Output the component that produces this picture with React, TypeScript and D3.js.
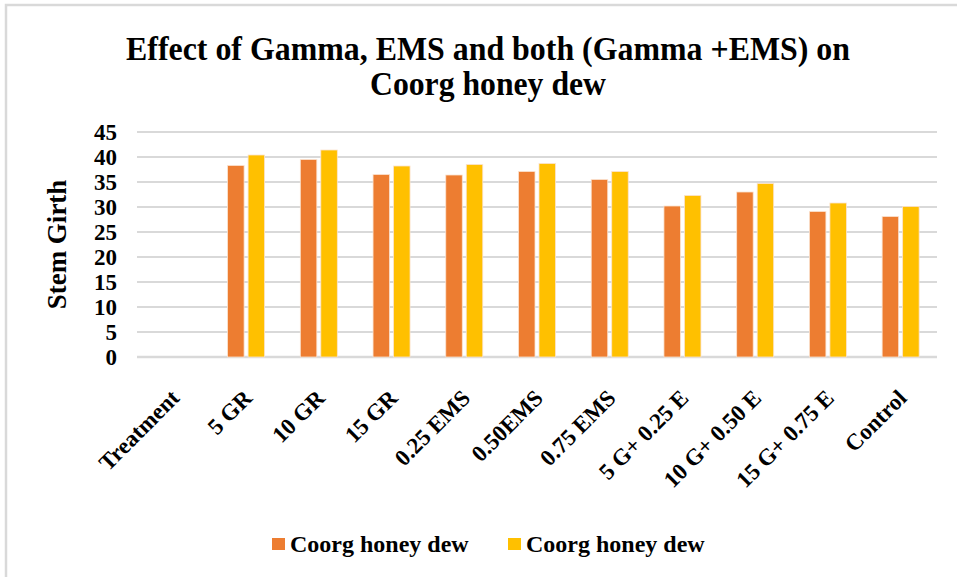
import React from 'react';
import * as d3 from 'd3';

const width = 957;
const height = 577;

const categories = ['Treatment', '5 GR', '10 GR', '15 GR', '0.25 EMS', '0.50EMS', '0.75 EMS', '5 G+ 0.25 E', '10 G+ 0.50 E', '15 G+ 0.75 E', 'Control'];
const seriesA = [0, 38.3, 39.5, 36.5, 36.4, 37.1, 35.5, 30.2, 33.0, 29.1, 28.1];
const seriesB = [0, 40.4, 41.4, 38.2, 38.5, 38.7, 37.1, 32.3, 34.7, 30.8, 30.1];
const seriesNames = ['Coorg honey dew', 'Coorg honey dew'];
const colors = ['#ED7D31', '#FFC000'];
const yTicks = [0, 5, 10, 15, 20, 25, 30, 35, 40, 45];

const serif = { fontFamily: '"Liberation Serif", "DejaVu Serif", serif', fontWeight: 700 as const };

export default function App() {
  const x0 = d3.scaleBand().domain(categories).range([137, 937]);
  const y = d3.scaleLinear().domain([0, 45]).range([357, 132]);
  const barW = 16.5;
  const gap = 4;
  const series = [seriesA, seriesB];

  return (
    <svg width={width} height={height} style={{ position: 'absolute', left: 0, top: 0, background: '#fff' }}>
      <rect x={6} y={5} width={width} height={height} fill="#fff" stroke="#d9d9d9" strokeWidth={2.5} />
      <text x={488} y={60} textAnchor="middle" fontSize={33} style={serif} textLength={724} lengthAdjust="spacingAndGlyphs">Effect of Gamma, EMS and both (Gamma +EMS) on</text>
      <text x={488} y={95} textAnchor="middle" fontSize={33} style={serif} textLength={236} lengthAdjust="spacingAndGlyphs">Coorg honey dew</text>

      {yTicks.map((t) => (
        <g key={t}>
          <line x1={137} x2={937} y1={y(t)} y2={y(t)} stroke="#d9d9d9" strokeWidth={t === 0 ? 2.5 : 2} />
          <text x={117} y={y(t)} dy="0.36em" textAnchor="end" fontSize={23} style={serif}>{t}</text>
        </g>
      ))}

      <text transform={`translate(66,${(y(0) + y(45)) / 2}) rotate(-90)`} textAnchor="middle" fontSize={27} style={serif}>Stem Girth</text>

      {categories.map((c, i) => {
        const cx = (x0(c) as number) + x0.bandwidth() / 2;
        return (
          <g key={c}>
            {series.map((s, j) => (
              s[i] > 0 ? (
                <rect key={j}
                  x={j === 0 ? cx - gap / 2 - barW : cx + gap / 2}
                  y={y(s[i])}
                  width={barW}
                  height={y(0) - y(s[i])}
                  fill={colors[j]}
                  stroke="#fbe3d0"
                  strokeWidth={0.8} />
              ) : null
            ))}
            <text transform={`translate(${cx - 4},388) rotate(-45)`} textAnchor="end" fontSize={23} style={serif} dy="0.7em">{c}</text>
          </g>
        );
      })}

      {seriesNames.map((n, j) => (
        <g key={j} transform={`translate(${j === 0 ? 272 : 508},538)`}>
          <rect x={0} y={0} width={13} height={12} fill={colors[j]} />
          <text x={18} y={14} fontSize={24} style={serif}>{n}</text>
        </g>
      ))}
    </svg>
  );
}
